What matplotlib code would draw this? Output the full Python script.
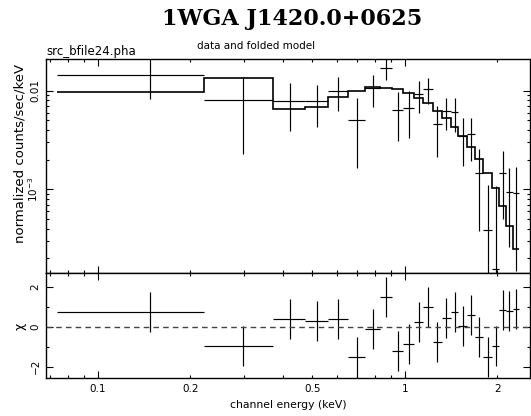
import numpy as np
import matplotlib
matplotlib.use("Agg")
import matplotlib.pyplot as plt
from matplotlib.ticker import FixedLocator, FixedFormatter, NullFormatter

# channel bin edges (keV), 23 bins
bin_edges = [0.0739, 0.2222, 0.3711, 0.4727, 0.5603, 0.6511, 0.7410, 0.8291,
             0.9052, 0.9874, 1.0722, 1.147, 1.236, 1.316, 1.408, 1.491,
             1.588, 1.690, 1.798, 1.915, 2.027, 2.132, 2.241, 2.355]

# data (normalized counts/sec/keV) and 1-sigma errors
counts = [0.0145, 0.00805, 0.00792, 0.00792, 0.00993, 0.00501, 0.0106, 0.0169,
          0.00637, 0.00664, 0.0092, 0.0104, 0.00457, 0.00623, 0.00612, 0.00348,
          0.00364, 0.001476, 0.000388, 0.000155, 0.001476, 0.000948, 0.000912]
count_err = [0.0063, 0.00576, 0.0040, 0.0036, 0.0037, 0.00335, 0.0038, 0.0041,
             0.0033, 0.0033, 0.0033, 0.0031, 0.00243, 0.0022, 0.0023, 0.00175,
             0.0017, 0.0011, 0.000725, 0.00093, 0.00098, 0.000686, 0.000764]

# folded model
model = [0.0097, 0.01355, 0.00648, 0.00689, 0.00857, 0.0100, 0.0110, 0.01072,
         0.0104, 0.00955, 0.00838, 0.00745, 0.00623, 0.00525, 0.00432, 0.00348,
         0.00267, 0.00202, 0.001476, 0.00104, 0.000679, 0.000426, 0.000247]

# residuals (chi)
chi = [0.75, -0.95, 0.37, 0.30, 0.37, -1.53, -0.13, 1.47, -1.22, -0.87, 0.22,
       0.97, -0.75, 0.42, 0.75, 0.03, 0.58, -0.53, -1.50, -0.95, 0.83, 0.78, 0.87]

edges = np.array(bin_edges)
centers = (edges[:-1] + edges[1:]) / 2
halfw = (edges[1:] - edges[:-1]) / 2

W, H = 531, 416
fig = plt.figure(figsize=(W / 100, H / 100), dpi=100)
plt.rcParams['font.family'] = ['DejaVu Sans']

left, right = 46 / W, 530 / W
ax1 = fig.add_axes([left, 1 - 273 / H, right - left, (273 - 59) / H])
ax2 = fig.add_axes([left, 1 - 378 / H, right - left, (378 - 273) / H], sharex=ax1)

# top panel: data and folded model
ax1.errorbar(centers, counts, xerr=halfw, yerr=count_err, fmt='none',
             ecolor='black', elinewidth=0.85, capsize=0)
ax1.stairs(model, edges, baseline=None, color='black', lw=1.2)
ax1.set_xscale('log')
ax1.set_yscale('log')
ax1.set_xlim(0.0679, 2.552)
ax1.set_ylim(1.422e-4, 0.02096)

# bottom panel: residuals
ax2.errorbar(centers, chi, xerr=halfw, yerr=np.ones(len(chi)), fmt='none',
             ecolor='black', elinewidth=0.85, capsize=0)
ax2.axhline(0, color='#444444', lw=1.0, ls=(0, (4, 3)))
ax2.set_ylim(-2.565, 2.685)

# ticks
xmaj = [0.1, 1]
xmin = [0.07, 0.08, 0.09, 0.2, 0.3, 0.4, 0.5, 0.6, 0.7, 0.8, 0.9, 2]
xlabels_min = {0.2: '0.2', 0.5: '0.5', 2: '2'}
for ax in (ax1, ax2):
    ax.xaxis.set_major_locator(FixedLocator(xmaj))
    ax.xaxis.set_minor_locator(FixedLocator(xmin))
    ax.tick_params(which='both', direction='in', top=True, right=True,
                   width=0.8, labelsize=7.5, pad=4)
    ax.tick_params(which='major', length=4.8)
    ax.tick_params(which='minor', length=2.5)
    ax.tick_params(axis='y', labelrotation=90)
    for s in ax.spines.values():
        s.set_linewidth(1.0)

ax1.yaxis.set_major_locator(FixedLocator([0.001, 0.01]))
ax1.yaxis.set_major_formatter(FixedFormatter(['$10^{-3}$', '0.01']))
ax1.yaxis.set_minor_locator(FixedLocator([2e-4, 3e-4, 4e-4, 5e-4, 6e-4, 7e-4, 8e-4, 9e-4,
                                          2e-3, 3e-3, 4e-3, 5e-3, 6e-3, 7e-3, 8e-3, 9e-3]))
ax1.yaxis.set_minor_formatter(NullFormatter())
ax1.tick_params(labelbottom=False)
for t in ax1.get_yticklabels():
    t.set_va('center')

ax2.yaxis.set_major_locator(FixedLocator([-2, 0, 2]))
ax2.yaxis.set_major_formatter(FixedFormatter(['\u22122', '0', '2']))
ax2.yaxis.set_minor_locator(FixedLocator([-1, 1]))
ax2.xaxis.set_major_formatter(FixedFormatter(['0.1', '1']))
ax2.xaxis.set_minor_formatter(FixedFormatter([xlabels_min.get(v, '') for v in xmin]))
for t in ax2.get_yticklabels():
    t.set_va('center')

# labels
fig.text(292 / W, 1 - 25 / H, '1WGA J1420.0+0625', ha='center', va='baseline',
         fontsize=16, fontweight='bold', family='DejaVu Serif')
fig.text(256 / W, 1 - 49 / H, 'data and folded model', ha='center', va='baseline',
         fontsize=7.5)
fig.text(46 / W, 1 - 55 / H, 'src_bfile24.pha', ha='left', va='baseline', fontsize=8.5)
fig.text(288 / W, 1 - 405 / H, 'channel energy (keV)', ha='center', va='center',
         fontsize=7.8)
fig.text(20 / W, 1 - 153 / H, 'normalized counts/sec/keV', ha='center', va='center',
         rotation=90, fontsize=9.5)
fig.text(20 / W, 1 - 326 / H, '\u03c7', ha='center', va='center', rotation=90,
         fontsize=9)

fig.savefig('out.png', dpi=100)
